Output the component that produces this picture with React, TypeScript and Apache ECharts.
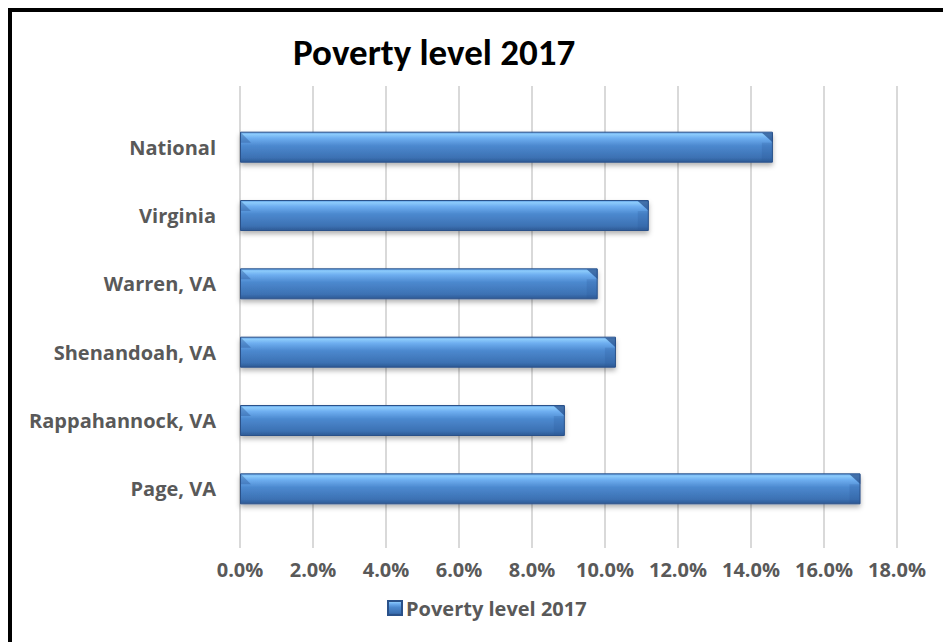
import React, { useEffect, useRef } from "react";
import * as echarts from "echarts";

const categories = ["National", "Virginia", "Warren, VA", "Shenandoah, VA", "Rappahannock, VA", "Page, VA"];
const povertyValues = [0.146, 0.112, 0.098, 0.103, 0.089, 0.170];
const seriesName = "Poverty level 2017";
const titleText = "Poverty level 2017";
const axisMin = 0;
const axisMax = 0.18;
const axisInterval = 0.02;

const TITLE_FONT = "Carlito, Lato, sans-serif";
const FONT = "'Open Sans', 'Noto Sans', sans-serif";

export default function App() {
  const ref = useRef<HTMLDivElement>(null);
  useEffect(() => {
    if (!ref.current) return;
    const chart = echarts.init(ref.current, null, { renderer: "svg" });
    const barColor = new echarts.graphic.LinearGradient(0, 0, 0, 1, [
      { offset: 0, color: "#5d9de4" },
      { offset: 0.07, color: "#8ccbfb" },
      { offset: 0.2, color: "#6eaef0" },
      { offset: 0.45, color: "#4c89cf" },
      { offset: 0.85, color: "#3c71b3" },
      { offset: 1, color: "#2d5a94" },
    ]);
    const bevelItem = (params: any, api: any) => {
      const idx = api.value(0);
      const val = api.value(1);
      const end = api.coord([val, idx]);
      const start = api.coord([0, idx]);
      const h = 31;
      const top = end[1] - h / 2;
      const bot = end[1] + h / 2;
      const b = 11;
      return {
        type: "group",
        children: [
          {
            type: "polygon",
            shape: { points: [[end[0] - b, top + 1], [end[0], top + 1], [end[0], top + b]] },
            style: { fill: "rgba(35,75,135,0.7)" },
          },
          {
            type: "polygon",
            shape: { points: [[end[0] - b, top + b], [end[0], top + b], [end[0], bot - 1], [end[0] - b, bot - 1]] },
            style: { fill: "rgba(40,85,150,0.2)" },
          },
          {
            type: "polygon",
            shape: { points: [[start[0] + 1, top + 1], [start[0] + b, top + b], [start[0] + 1, top + b]] },
            style: { fill: "rgba(40,85,150,0.4)" },
          },
        ],
      };
    };
    chart.setOption({
      animation: false,
      title: {
        text: titleText,
        left: 281,
        top: 22,
        padding: 0,
        textStyle: { fontFamily: TITLE_FONT, fontWeight: "bold", fontSize: 37, color: "#000" },
      },
      legend: {
        left: 375,
        top: 586,
        padding: 0,
        icon: "rect",
        itemWidth: 14,
        itemHeight: 14,
        itemGap: 6,
        textStyle: { fontFamily: FONT, fontWeight: "bold", fontSize: 20, color: "#595959", padding: [0, 0, 0, -1] },
        data: [seriesName],
      },
      grid: [
        { left: 228, width: 657, top: 74, height: 462 },
        { left: 228, width: 657, top: 101, height: 410 },
      ],
      xAxis: [
        {
          gridIndex: 0,
          type: "value",
          min: axisMin,
          max: axisMax,
          interval: axisInterval,
          axisLine: { show: false },
          axisTick: { show: false },
          splitLine: { show: true, lineStyle: { color: "#d9d9d9", width: 2 } },
          axisLabel: {
            margin: 11,
            fontFamily: FONT,
            fontWeight: "bold",
            fontSize: 20,
            color: "#595959",
            formatter: (v: number) => (v * 100).toFixed(1) + "%",
          },
        },
        {
          gridIndex: 1,
          type: "value",
          min: axisMin,
          max: axisMax,
          interval: axisInterval,
          show: false,
          splitLine: { show: false },
        },
      ],
      yAxis: [
        {
          gridIndex: 0,
          type: "value",
          show: false,
          splitLine: { show: false },
        },
        {
          gridIndex: 1,
          type: "category",
          inverse: true,
          data: categories,
          axisLine: { show: false },
          axisTick: { show: false },
          axisLabel: {
            margin: 24,
            fontFamily: FONT,
            fontWeight: "bold",
            fontSize: 20,
            color: "#595959",
          },
        },
      ],
      series: [
        {
          name: seriesName,
          type: "bar",
          xAxisIndex: 1,
          yAxisIndex: 1,
          data: povertyValues,
          barWidth: 31,
          itemStyle: {
            color: barColor,
            borderColor: "#2a5189",
            borderWidth: 1,
            shadowBlur: 5,
            shadowColor: "rgba(0,0,0,0.3)",
            shadowOffsetY: 3,
          },
        },
        {
          name: "bevel",
          type: "custom",
          xAxisIndex: 1,
          yAxisIndex: 1,
          silent: true,
          encode: { x: 1, y: 0 },
          data: povertyValues.map((v, i) => [i, v]),
          renderItem: bevelItem,
          z: 3,
        },
      ],
    });
    return () => chart.dispose();
  }, []);

  return (
    <div
      style={{
        position: "fixed",
        left: 8,
        top: 8,
        width: 960,
        height: 660,
        borderLeft: "4px solid #000",
        borderTop: "4px solid #000",
        background: "#fff",
      }}
    >
      <div ref={ref} style={{ width: 931, height: 630 }} />
    </div>
  );
}
